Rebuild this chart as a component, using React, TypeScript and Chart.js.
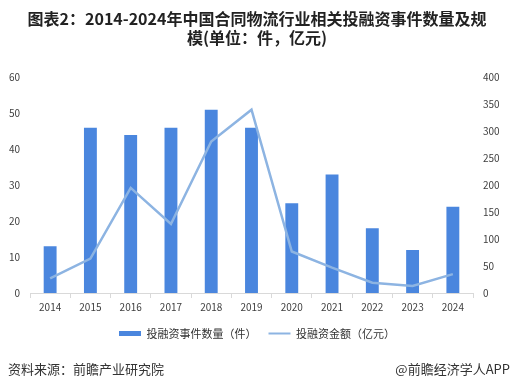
import React, { useEffect, useRef } from "react";
import { Chart, registerables } from "chart.js";

Chart.register(...registerables);

const years = ["2014", "2015", "2016", "2017", "2018", "2019", "2020", "2021", "2022", "2023", "2024"];
const eventCounts = [13, 46, 44, 46, 51, 46, 25, 33, 18, 12, 24];
const amounts = [27, 64, 195, 128, 281, 340, 77, 47, 19, 13, 35];
const titleLines = ["图表2：2014-2024年中国合同物流行业相关投融资事件数量及规", "模(单位：件，亿元)"];
const barLabel = "投融资事件数量（件）";
const lineLabel = "投融资金额（亿元）";
const sourceText = "资料来源：前瞻产业研究院";
const brandText = "@前瞻经济学人APP";

const BAR_COLOR = "#4A86DE";
const LINE_COLOR = "#8DB4E2";
const FONT = "'Noto Sans CJK SC', 'Noto Sans', sans-serif";

const footerPlugin = {
  id: "footerText",
  afterDraw(chart: any) {
    const ctx = chart.ctx;
    ctx.save();
    ctx.font = `13px ${FONT}`;
    ctx.fillStyle = "#333333";
    ctx.textBaseline = "middle";
    ctx.textAlign = "left";
    ctx.fillText(sourceText, 8, 369);
    ctx.textAlign = "right";
    ctx.fillText(brandText, 510, 369);
    ctx.restore();
  },
};

export default function App() {
  const ref = useRef<HTMLCanvasElement>(null);
  useEffect(() => {
    if (!ref.current) return;
    const chart = new Chart(ref.current, {
      type: "bar",
      data: {
        labels: years,
        datasets: [
          {
            type: "bar",
            label: barLabel,
            data: eventCounts,
            backgroundColor: BAR_COLOR,
            yAxisID: "y",
            barPercentage: 0.64,
            categoryPercentage: 0.5,
            order: 2,
          },
          {
            type: "line",
            label: lineLabel,
            data: amounts,
            borderColor: LINE_COLOR,
            backgroundColor: LINE_COLOR,
            borderWidth: 2.5,
            pointRadius: 0,
            tension: 0,
            yAxisID: "y1",
            order: 1,
          },
        ] as any,
      },
      options: {
        responsive: false,
        animation: false,
        layout: { padding: { left: 0, right: 0, top: 5, bottom: 40 } },
        plugins: {
          tooltip: { enabled: false },
          title: {
            display: true,
            text: titleLines,
            color: "#222222",
            font: { family: FONT, size: 16, weight: "bold", lineHeight: 1.2 },
            padding: { top: 4, bottom: 30 },
          },
          legend: {
            position: "bottom",
            labels: {
              usePointStyle: true,
              pointStyleWidth: 22,
              boxHeight: 5,
              boxWidth: 22,
              padding: 12,
              color: "#333333",
              font: { family: FONT, size: 11 },
              generateLabels: (c: any) =>
                c.data.datasets.map((ds: any, i: number) => ({
                  text: ds.label,
                  fillStyle: ds.type === "line" ? LINE_COLOR : BAR_COLOR,
                  strokeStyle: ds.type === "line" ? LINE_COLOR : BAR_COLOR,
                  lineWidth: ds.type === "line" ? 2 : 0,
                  pointStyle: ds.type === "line" ? "line" : "rect",
                  hidden: false,
                  datasetIndex: i,
                  fontColor: "#333333",
                })),
            },
          },
        },
        scales: {
          x: {
            offset: true,
            grid: {
              offset: true,
              drawOnChartArea: false,
              drawTicks: true,
              tickLength: 5,
              color: "#D9D9D9",
            },
            border: { color: "#D9D9D9" },
            ticks: { color: "#404040", font: { family: FONT, size: 10 }, padding: 3, maxRotation: 0 },
          },
          y: {
            position: "left",
            min: 0,
            max: 60,
            grid: { display: false, drawTicks: false },
            border: { display: false },
            ticks: { stepSize: 10, color: "#404040", font: { family: FONT, size: 10 }, padding: 10 },
            afterFit: (s: any) => { s.width = 30; },
          },
          y1: {
            position: "right",
            min: 0,
            max: 400,
            grid: { display: false, drawTicks: false },
            border: { display: false },
            ticks: { stepSize: 50, color: "#404040", font: { family: FONT, size: 10 }, padding: 10 },
            afterFit: (s: any) => { s.width = 41; },
          },
        },
      } as any,
      plugins: [footerPlugin],
    });
    return () => chart.destroy();
  }, []);
  return (
    <div style={{ position: "fixed", left: 0, top: 0, width: 514, height: 389, background: "#fff" }}>
      <canvas ref={ref} width={514} height={389} style={{ display: "block" }} />
    </div>
  );
}
